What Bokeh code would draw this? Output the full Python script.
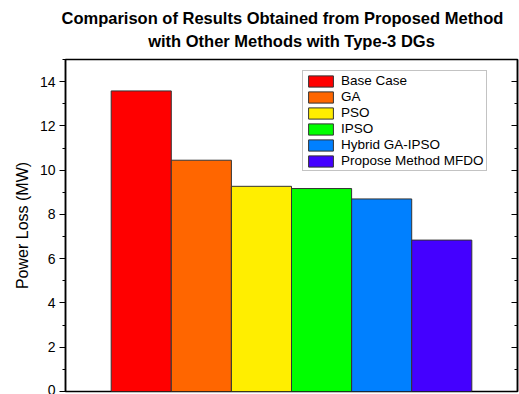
from bokeh.plotting import figure
from bokeh.models import (LinearAxis, SingleIntervalTicker, Range1d, ColumnDataSource,
                          Legend, LegendItem, Title)
from bokeh.embed import file_html
from bokeh.resources import INLINE

title_lines = ["Comparison of Results Obtained from Proposed Method",
               "with Other Methods with Type-3 DGs"]
methods = ["Base Case", "GA", "PSO", "IPSO", "Hybrid GA-IPSO", "Propose Method MFDO"]
power_loss = [13.58, 10.45, 9.27, 9.17, 8.70, 6.84]
colors = ["#FF0000", "#FF6600", "#FFEE00", "#00FF00", "#0080FF", "#4400FF"]
positions = list(range(1, len(methods) + 1))

FONT = "Liberation Sans"

src = ColumnDataSource(dict(x=positions, top=power_loss, color=colors, method=methods))

p = figure(width=519, height=394, output_backend="svg", toolbar_location=None,
           x_range=Range1d(-0.26, 7.26), y_range=Range1d(0, 15),
           min_border_left=65, min_border_right=2, min_border_bottom=3, min_border_top=59)

p.title.text = title_lines[0]
p.title.align = "left"
p.title.offset = -4
p.title.text_font = FONT
p.title.text_font_size = "16.5px"
p.title.text_font_style = "bold"
p.title.text_color = "black"
p.title.standoff = -12
p.add_layout(Title(text=title_lines[1], align="center",
                   text_font=FONT, text_font_size="16.5px", text_font_style="bold",
                   text_color="black", standoff=19), "above")

r = p.vbar(x="x", top="top", width=1, fill_color="color", line_color="#333333",
           line_width=1, source=src)

p.xgrid.visible = False
p.ygrid.visible = False
p.xaxis.visible = False
p.outline_line_color = "black"
p.outline_line_width = 1.5
p.background_fill_color = "white"
p.border_fill_color = "white"

ya = p.yaxis[0]
ya.ticker = SingleIntervalTicker(interval=2, num_minor_ticks=2)
ya.axis_label = "Power Loss (MW)"
ya.axis_label_text_font = FONT
ya.axis_label_text_font_size = "16px"
ya.axis_label_text_font_style = "normal"
ya.axis_label_text_color = "black"
ya.axis_label_standoff = 6
ya.major_label_text_font = FONT
ya.major_label_text_font_size = "14px"
ya.major_label_text_color = "black"
ya.major_label_standoff = 4
ya.major_tick_out = 6
ya.major_tick_in = 0
ya.minor_tick_out = 3
ya.minor_tick_in = 0
ya.axis_line_width = 1.5
ya.major_tick_line_width = 1.2
ya.minor_tick_line_width = 1.2

ra = LinearAxis(ticker=SingleIntervalTicker(interval=2, num_minor_ticks=2))
ra.major_label_text_font_size = "0px"
ra.major_label_standoff = 0
ra.major_tick_in = 6
ra.major_tick_out = 0
ra.minor_tick_in = 3
ra.minor_tick_out = 0
ra.axis_line_width = 1.5
ra.major_tick_line_width = 1.2
ra.minor_tick_line_width = 1.2
p.add_layout(ra, "right")

items = [LegendItem(label=m, renderers=[r], index=i) for i, m in enumerate(methods)]
legend = Legend(items=items, location=(237, 220))
legend.label_text_font = FONT
legend.label_text_font_size = "13.5px"
legend.label_text_color = "black"
legend.glyph_width = 31
legend.glyph_height = 14
legend.label_height = 14
legend.label_standoff = 5
legend.spacing = 1
legend.padding = 2
legend.margin = 0
legend.border_line_color = "#888888"
legend.border_line_width = 1
legend.background_fill_color = "white"
legend.background_fill_alpha = 1
p.add_layout(legend, "center")

open("out.html", "w").write(file_html(p, INLINE))
